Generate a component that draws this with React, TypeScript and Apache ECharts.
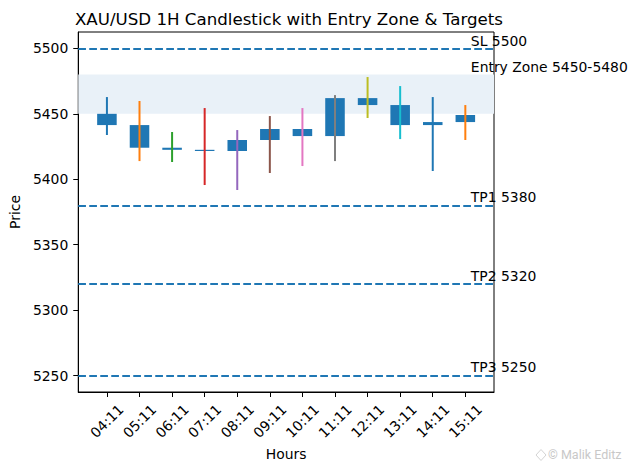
import React, { useEffect, useRef } from "react";
import * as echarts from "echarts";

const hours = ["04:11", "05:11", "06:11", "07:11", "08:11", "09:11", "10:11", "11:11", "12:11", "13:11", "14:11", "15:11"];
const opens = [5450.0, 5441.4, 5424.1, 5422.5, 5421.6, 5430.0, 5438.4, 5433.0, 5462.0, 5456.7, 5441.4, 5443.7];
const closes = [5441.4, 5424.1, 5422.5, 5421.6, 5430.0, 5438.4, 5433.0, 5462.0, 5456.7, 5441.4, 5443.7, 5449.1];
const lows = [5433.8, 5413.9, 5413.2, 5395.6, 5391.8, 5404.8, 5410.1, 5413.9, 5446.8, 5430.7, 5406.3, 5430.0];
const highs = [5462.8, 5459.8, 5436.1, 5454.4, 5437.6, 5448.3, 5454.4, 5464.3, 5478.1, 5471.2, 5462.8, 5456.7];
const yTicks = [5250, 5300, 5350, 5400, 5450, 5500];
const levelLines = [5500, 5380, 5320, 5250];
const entryZone = [5450, 5480];
const levelLabels = ["SL 5500", "Entry Zone 5450-5480", "TP1 5380", "TP2 5320", "TP3 5250"];
const levelLabelValues = [5502, 5482.2, 5382.5, 5322.5, 5252.5];
const wickColors = ["#1f77b4", "#ff7f0e", "#2ca02c", "#d62728", "#9467bd", "#8c564b", "#e377c2", "#7f7f7f", "#bcbd22", "#17becf", "#1f77b4", "#ff7f0e"];

const FONT = "DejaVu Sans";
const FS = 13.9;

export default function App() {
  const ref = useRef<HTMLDivElement>(null);
  useEffect(() => {
    if (!ref.current) return;
    const chart = echarts.init(ref.current, null, { renderer: "svg" });
    const idx = hours.map((_, i) => i);
    const candleData = hours.map((_, i) => [i, opens[i], closes[i], lows[i], highs[i]]);
    const labelX = hours.length - 1 + 0.17;
    const labelData = levelLabels.map((_, i) => [labelX, levelLabelValues[i], i]);

    chart.setOption({
      animation: false,
      backgroundColor: "#ffffff",
      title: {
        text: "XAU/USD 1H Candlestick with Entry Zone & Targets",
        left: 284,
        top: 6,
        textAlign: "center",
        textStyle: { fontFamily: FONT, fontSize: 16.67, fontWeight: "normal", color: "#000" },
      },
      grid: {
        left: 74,
        top: 32,
        width: 420,
        height: 360,
        show: true,
        borderColor: "#000",
        borderWidth: 1,
        backgroundColor: "transparent",
      },
      xAxis: {
        type: "value",
        min: -0.88,
        max: 11.88,
        name: "Hours",
        nameLocation: "middle",
        nameGap: 53,
        nameTextStyle: { fontFamily: FONT, fontSize: FS, color: "#000" },
        axisLine: { show: true, onZero: false, lineStyle: { color: "#000", width: 1 } },
        axisTick: { show: true, customValues: idx, length: 5, lineStyle: { color: "#000", width: 1 } },
        axisLabel: {
          customValues: idx,
          formatter: (v: number) => hours[Math.round(v)] ?? "",
          rotate: 45,
          align: "center",
          verticalAlign: "middle",
          margin: 29,
          fontFamily: FONT,
          fontSize: FS,
          color: "#000",
        },
        splitLine: { show: false },
      },
      yAxis: {
        type: "value",
        min: 5237.5,
        max: 5512.5,
        name: "Price",
        nameLocation: "middle",
        nameGap: 50,
        nameTextStyle: { fontFamily: FONT, fontSize: FS, color: "#000" },
        axisLine: { show: true, onZero: false, lineStyle: { color: "#000", width: 1 } },
        axisTick: { show: true, customValues: yTicks, length: 5, lineStyle: { color: "#000", width: 1 } },
        axisLabel: {
          customValues: yTicks,
          formatter: (v: number) => String(v),
          margin: 10,
          fontFamily: FONT,
          fontSize: FS,
          color: "#000",
        },
        splitLine: { show: false },
      },
      series: [
        {
          type: "line",
          data: [],
          z: 1,
          silent: true,
          markArea: {
            silent: true,
            itemStyle: { color: "#e9f1f8" },
            label: { show: false },
            data: [[{ yAxis: entryZone[0] }, { yAxis: entryZone[1] }]],
          },
          markLine: {
            silent: true,
            symbol: "none",
            label: { show: false },
            lineStyle: { color: "#1f77b4", width: 2, type: [7.7, 3.3] },
            data: levelLines.map((v) => ({ yAxis: v })),
          },
        },
        {
          type: "custom",
          z: 2,
          data: candleData,
          renderItem: (params: any, api: any) => {
            const i = api.value(0);
            const o = api.value(1);
            const c = api.value(2);
            const lo = api.value(3);
            const hi = api.value(4);
            const pTop = api.coord([i, Math.max(o, c)]);
            const pBot = api.coord([i, Math.min(o, c)]);
            const pLo = api.coord([i, lo]);
            const pHi = api.coord([i, hi]);
            const w = api.size([0.6, 0])[0];
            return {
              type: "group",
              children: [
                {
                  type: "rect",
                  shape: { x: pTop[0] - w / 2, y: pTop[1], width: w, height: Math.max(pBot[1] - pTop[1], 1) },
                  style: { fill: "#1f77b4" },
                },
                {
                  type: "line",
                  shape: { x1: pHi[0], y1: pHi[1], x2: pLo[0], y2: pLo[1] },
                  style: { stroke: wickColors[params.dataIndex], lineWidth: 2 },
                },
              ],
            };
          },
        },
        {
          type: "custom",
          z: 3,
          data: labelData,
          clip: false,
          renderItem: (params: any, api: any) => {
            const p = api.coord([api.value(0), api.value(1)]);
            return {
              type: "text",
              x: p[0],
              y: p[1] - 5,
              style: {
                text: levelLabels[params.dataIndex],
                fill: "#000",
                fontFamily: FONT,
                fontSize: FS,
                align: "left",
                verticalAlign: "middle",
              },
            };
          },
        },
      ],
      graphic: [
        {
          type: "text",
          left: 548,
          top: 448,
          style: { text: "© Malik Editz", fill: "#c8c8c8", fontFamily: "Roboto", fontSize: 12.5 },
        },
        {
          type: "polygon",
          shape: { points: [[541, 449.5], [546, 455], [541, 460.5], [536, 455]] },
          style: { fill: "none", stroke: "#d4d4d4", lineWidth: 1 },
        },
      ],
    });
    return () => chart.dispose();
  }, []);
  return <div ref={ref} style={{ position: "fixed", left: 0, top: 0, width: 635, height: 470 }} />;
}
